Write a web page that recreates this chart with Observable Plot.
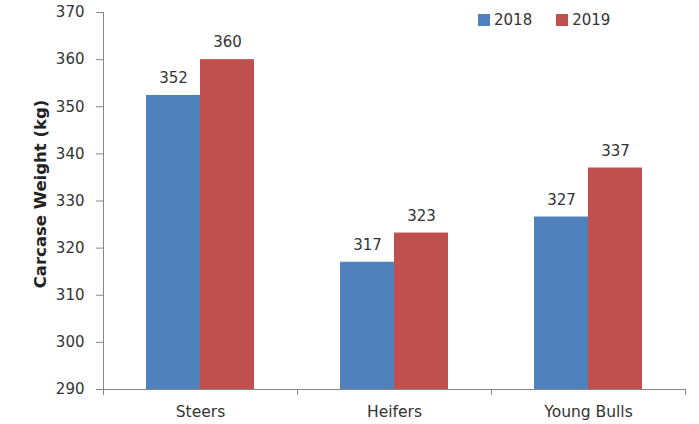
<!DOCTYPE html>
<html>
<head>
<meta charset="utf-8">
<script src="https://cdn.jsdelivr.net/npm/d3@7"></script>
<script src="https://cdn.jsdelivr.net/npm/@observablehq/plot@0.6"></script>
<style>
  html, body { margin: 0; padding: 0; background: #fff; }
  #wrap { position: relative; width: 699px; height: 424px; font-family: "DejaVu Sans", sans-serif; }
  #legend { position: absolute; left: 478px; top: 11px; display: flex; gap: 24px; font-size: 15px; color: #333; }
  #legend span.item { display: flex; align-items: center; gap: 4px; }
  #legend span.sw { display: inline-block; width: 12px; height: 12px; }
</style>
</head>
<body>
<div id="wrap"></div>
<script>
const categories = ["Steers", "Heifers", "Young Bulls"];
const years = ["2018", "2019"];
const values2018 = [352.4, 317.0, 326.6];
const values2019 = [360.0, 323.2, 337.0];
const colors = ["#4F81BD", "#C0504D"];
const yTicks = [290, 300, 310, 320, 330, 340, 350, 360, 370];

const data = [];
categories.forEach((c, i) => {
  data.push({category: c, year: "2018", value: values2018[i]});
  data.push({category: c, year: "2019", value: values2019[i]});
});

const chart = Plot.plot({
  width: 699,
  height: 424,
  marginLeft: 102,
  marginRight: 13,
  marginTop: 12,
  marginBottom: 35,
  style: {fontFamily: "DejaVu Sans, sans-serif", fontSize: "15px", color: "#333", background: "#fff"},
  fx: {domain: categories, padding: 0, label: null},
  x: {domain: years, paddingInner: 0, paddingOuter: 0.77, axis: null},
  y: {domain: [290, 370], axis: null},
  color: {domain: years, range: colors},
  marks: [
    Plot.barY(data, {fx: "category", x: "year", y1: 290, y2: "value", fill: "year"}),
    Plot.text(data, {fx: "category", x: "year", y: "value", text: d => d3.format(".0f")(d.value), dy: -17, fill: "#333", fontSize: 15}),
    Plot.ruleY([290], {stroke: "#868686"}),
    Plot.axisY({ticks: yTicks, tickSize: 7, tickPadding: 12, stroke: "#868686", strokeOpacity: 1, fill: "#333", label: "Carcase Weight (kg)", labelAnchor: "center", labelOffset: 69, labelArrow: false}),
    Plot.axisFx({anchor: "bottom", tickSize: 0, tickPadding: 16, label: null, fill: "#333", fontSize: 15.5})
  ]
});

// bold y label
d3.select(chart).selectAll("text").filter(function() { return this.textContent.startsWith("Carcase"); })
  .attr("font-weight", "bold").attr("font-size", "16.5px").attr("fill", "#222").attr("dx", 7);

// axis line and category boundary ticks, positioned with the plot's own scales
const yS = chart.scale("y");
const fxS = chart.scale("fx");
const svg = d3.select(chart.tagName.toLowerCase() === "svg" ? chart : chart.querySelector("svg"));
const g = svg.append("g").attr("stroke", "#868686").attr("fill", "none");
const yTop = yS.apply(370), yBot = yS.apply(290);
const firstEdge = fxS.apply(categories[0]);
const xl = Math.round(firstEdge) + 0.5;
g.append("line").attr("x1", xl).attr("x2", xl).attr("y1", yTop).attr("y2", yBot);
const bw = fxS.bandwidth;
const edges = categories.map(c => fxS.apply(c)).concat([fxS.apply(categories[categories.length - 1]) + bw]);
edges.forEach(e => {
  const x = Math.round(e) + 0.5;
  g.append("line").attr("x1", x).attr("x2", x).attr("y1", yBot).attr("y2", yBot + 6);
});

const wrap = document.getElementById("wrap");
wrap.appendChild(chart);
const legend = document.createElement("div");
legend.id = "legend";
years.forEach((y, i) => {
  const item = document.createElement("span");
  item.className = "item";
  const sw = document.createElement("span");
  sw.className = "sw";
  sw.style.background = colors[i];
  item.appendChild(sw);
  item.appendChild(document.createTextNode(y));
  legend.appendChild(item);
});
wrap.appendChild(legend);
</script>
</body>
</html>
